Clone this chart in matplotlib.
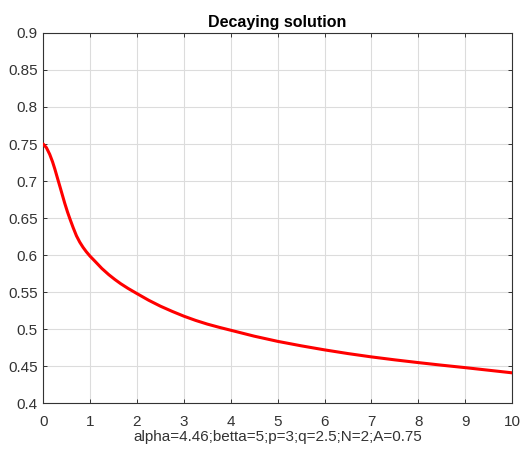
import numpy as np
import matplotlib.pyplot as plt

x_vals = [0, 0.07, 0.14, 0.2, 0.25, 0.3, 0.36, 0.41, 0.46, 0.52, 0.57, 0.64, 0.71, 0.78,
          0.85, 0.92, 1.0, 1.1, 1.25, 1.4, 1.53, 1.65, 1.81, 2.0, 2.25, 2.5, 2.75, 3.0,
          3.25, 3.5, 3.75, 4.0, 4.5, 5.0, 5.5, 6.0, 6.5, 7.0, 7.5, 8.0, 8.5, 9.0, 9.5, 10.0]
y_vals = [0.75, 0.745, 0.736, 0.726, 0.716, 0.705, 0.692, 0.681, 0.670, 0.658, 0.649,
          0.637, 0.626, 0.6175, 0.6105, 0.6045, 0.5985, 0.592, 0.582, 0.5735, 0.567,
          0.5615, 0.555, 0.548, 0.539, 0.531, 0.524, 0.5175, 0.5118, 0.5068, 0.5025,
          0.4985, 0.4905, 0.4835, 0.4775, 0.472, 0.467, 0.4625, 0.4585, 0.4548, 0.4513,
          0.448, 0.4445, 0.441]
x_ticks = np.arange(0, 11, 1)
y_ticks = [0.4, 0.45, 0.5, 0.55, 0.6, 0.65, 0.7, 0.75, 0.8, 0.85, 0.9]
title = "Decaying solution"
xlabel = "alpha=4.46;betta=5;p=3;q=2.5;N=2;A=0.75"

plt.rcParams.update({"font.family": ["Liberation Sans", "DejaVu Sans"], "font.size": 11})
axc = "#333333"

fig = plt.figure(figsize=(5.2, 4.51), dpi=100)
ax = fig.add_axes([0.083, 0.106, 0.902, 0.821])
ax.plot(x_vals, y_vals, color="red", linewidth=2.2, zorder=3,
        solid_joinstyle="round", solid_capstyle="round")
ax.set_xlim(0, 10); ax.set_ylim(0.4, 0.9)
ax.set_xticks(x_ticks); ax.set_yticks(y_ticks)
ax.set_yticklabels([f"{v:g}" for v in y_ticks])
ax.grid(True, color="#dcdcdc", linewidth=0.8)
ax.tick_params(direction="in", length=3, width=0.7, colors=axc, labelcolor=axc,
               labelsize=11, top=True, right=True, pad=4)
ax.tick_params(axis="x", pad=8.5)
for s in ax.spines.values():
    s.set_color(axc); s.set_linewidth(0.8)
ax.set_title(title, fontweight="bold", fontsize=11.5, color="black", pad=4)
ax.set_xlabel(xlabel, color=axc, fontsize=11, labelpad=0.5)
fig.savefig("out.png", dpi=100)
